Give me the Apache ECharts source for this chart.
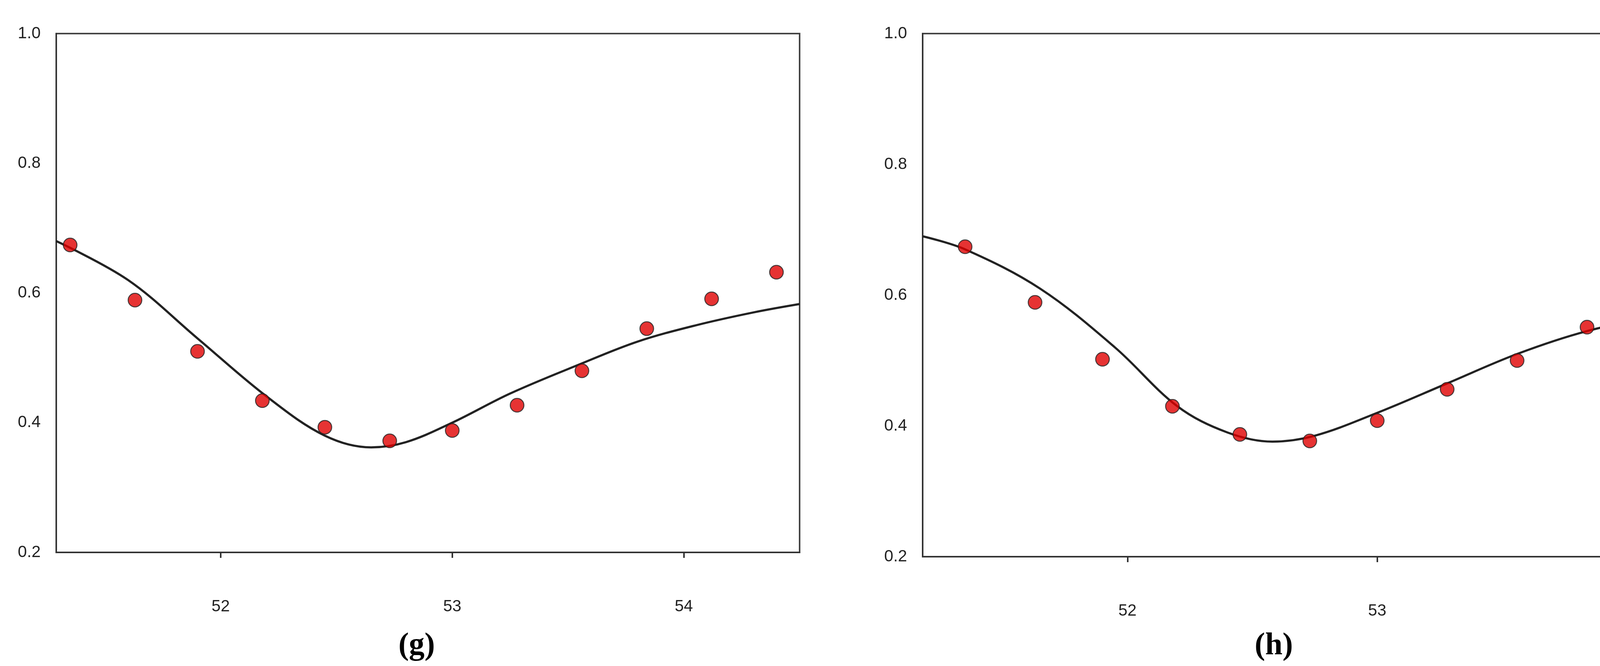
<!DOCTYPE html><html><head><meta charset="utf-8"><script src="https://cdn.jsdelivr.net/npm/echarts@6/dist/echarts.min.js"></script>
<style>html,body{margin:0;background:#fff}#c{width:4319px;height:1706px}</style></head><body><div id="c"></div><script>
const xG=[51.35,51.63,51.9,52.18,52.45,52.73,53.0,53.28,53.56,53.84,54.12,54.4];
const yG=[0.674,0.589,0.51,0.434,0.393,0.372,0.388,0.427,0.48,0.545,0.591,0.632];
const cxG=[51.29,51.6,51.9,52.2,52.45,52.65,52.8,53.0,53.25,53.55,53.8,54.05,54.3,54.5];
const cyG=[0.68,0.62,0.53,0.44,0.38,0.362,0.37,0.40,0.445,0.49,0.525,0.55,0.57,0.583];
const xH=[51.35,51.63,51.9,52.18,52.45,52.73,53.0,53.28,53.56,53.84,54.12];
const yH=[0.674,0.589,0.502,0.43,0.387,0.377,0.408,0.456,0.5,0.551,0.616];
const cxH=[51.18,51.35,51.65,51.95,52.2,52.4,52.58,52.75,53.0,53.28,53.56,53.84,54.2];
const cyH=[0.69,0.67,0.61,0.52,0.43,0.39,0.376,0.385,0.42,0.465,0.51,0.545,0.575];
const yTicks=[0.2,0.4,0.6,0.8,1.0];
const xTicks=[52,53,54];
const ch=echarts.init(document.getElementById('c'));
const lab={fontFamily:'Liberation Sans',fontSize:42,color:'#222'};
const line={lineStyle:{color:'#333',width:4}};
function xa(i,min,max){return {type:'value',gridIndex:i,min,max,splitLine:{show:false},axisLine:line,axisTick:{show:true,length:14,lineStyle:{color:'#333',width:4},customValues:xTicks},axisLabel:Object.assign({margin:118,customValues:xTicks},lab)};}
function ya(i){return {type:'value',gridIndex:i,min:0.2,max:1.0,interval:0.2,splitLine:{show:false},axisLine:line,axisTick:{show:false},axisLabel:Object.assign({margin:40,formatter:v=>v.toFixed(1)},lab)};}
function sc(i,xs,ys){return {type:'scatter',xAxisIndex:i,yAxisIndex:i,data:xs.map((x,k)=>[x,ys[k]]),symbolSize:35,z:5,itemStyle:{color:'#e00000',borderColor:'#222',borderWidth:2.5}};}
function cu(i,xs,ys){return {type:'line',xAxisIndex:i,yAxisIndex:i,data:xs.map((x,k)=>[x,ys[k]]),smooth:0.35,showSymbol:false,lineStyle:{color:'#222',width:5.5}};}
ch.setOption({animation:false,
grid:[{left:144,top:86,width:1903,height:1329,show:true,borderColor:'#444',borderWidth:4},{left:2362,top:86,width:1931,height:1340,show:true,borderColor:'#444',borderWidth:4}],
xAxis:[xa(0,51.29,54.5),xa(1,51.18,54.2)],yAxis:[ya(0),ya(1)],
graphic:[{type:'text',left:1020,top:1615,style:{text:'(g)',font:'bold 80px "Liberation Serif"',fill:'#000'}},{type:'text',left:3212,top:1615,style:{text:'(h)',font:'bold 80px "Liberation Serif"',fill:'#000'}}],
series:[cu(0,cxG,cyG),sc(0,xG,yG),cu(1,cxH,cyH),sc(1,xH,yH)]});
</script></body></html>
